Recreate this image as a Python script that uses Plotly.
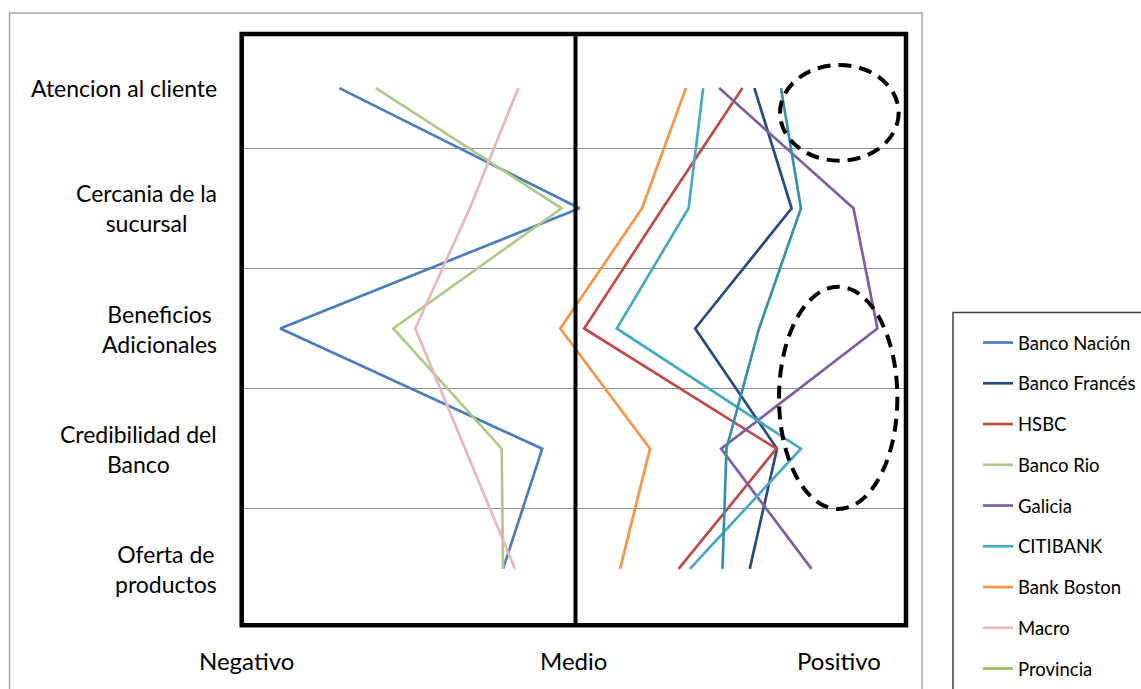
import plotly.graph_objects as go

# Attributes evaluated (top to bottom) and the scale labels
atributos = [
    "Atencion al cliente",
    "Cercania de la<br>sucursal",
    "Beneficios<br>Adicionales",
    "Credibilidad del<br>Banco",
    "Oferta de<br>productos",
]
escala = ["Negativo", "Medio", "Positivo"]

# Position of each bank on each attribute (0 = negativo, 50 = medio, 100 = positivo)
banco_nacion = [14.5, 50.6, 5.6, 45.0, 39.1]
banco_frances = [76.9, 82.5, 68.0, 80.3, 76.2]
hsbc = [75.1, 63.1, 51.3, 80.2, 65.5]
banco_rio = [20.0, 47.9, 22.6, 38.9, 39.1]
galicia = [71.6, 91.8, 95.4, 71.9, 85.5]
citibank = [69.2, 67.0, 56.2, 83.9, 67.2]
bank_boston = [66.6, 60.0, 47.7, 61.2, 56.7]
macro = [41.4, 34.1, 25.9, 33.4, 40.9]
provincia = [None, None, None, None, None]
otros = [80.9, 83.9, 77.6, 72.7, 72.1]

series = [
    ("Banco Nación", banco_nacion, "#4A7EBB", True),
    ("Banco Francés", banco_frances, "#244C7E", True),
    ("HSBC", hsbc, "#BE4B48", True),
    ("Banco Rio", banco_rio, "#AFC98A", True),
    ("Galicia", galicia, "#7D5FA0", True),
    ("CITIBANK", citibank, "#46AAC5", True),
    ("Bank Boston", bank_boston, "#F79646", True),
    ("Macro", macro, "#E6B9B8", True),
    ("Provincia", provincia, "#9BBB59", True),
    ("Otros", otros, "#3591A8", False),
]

W, H = 1141, 689
L, R, T, B = 243, 908, 28, 629  # plot area in pixels


def px(x):
    return (x - L) / (R - L)


def py(y):
    return (B - y) / (B - T)


fig = go.Figure()
ys = list(range(len(atributos)))
for nombre, valores, color, en_leyenda in series:
    fig.add_trace(go.Scatter(
        x=valores, y=ys, name=nombre, mode="lines",
        line=dict(color=color, width=2.7),
        legendgroup=nombre, showlegend=en_leyenda,
    ))

shapes = []
# outer chart frame
shapes.append(dict(type="rect", xref="paper", yref="paper",
                   x0=px(9.5), x1=px(922), y0=py(13), y1=py(720),
                   line=dict(color="#A6A6A6", width=1.5), layer="below"))
# thick frame and middle divider
shapes.append(dict(type="rect", xref="paper", yref="paper",
                   x0=px(241.7), x1=px(906), y0=py(34), y1=py(625.3),
                   line=dict(color="black", width=4.5)))
shapes.append(dict(type="line", xref="x", yref="paper",
                   x0=50, x1=50, y0=py(34), y1=py(625.3),
                   line=dict(color="black", width=4)))
# highlighted zones
shapes.append(dict(type="circle", xref="x", yref="y",
                   x0=80.75, x1=98.6, y0=-0.192, y1=0.604,
                   line=dict(color="black", width=4, dash="13px,8px")))
shapes.append(dict(type="circle", xref="x", yref="y",
                   x0=80.6, x1=98.4, y0=1.652, y1=3.502,
                   line=dict(color="black", width=4, dash="13px,8px")))
# legend frame
shapes.append(dict(type="rect", xref="paper", yref="paper",
                   x0=px(953), x1=px(1160), y0=py(312.5), y1=py(720),
                   line=dict(color="#404040", width=1.5)))

annotations = []
for i, texto in enumerate(atributos):
    annotations.append(dict(x=px(219), xref="paper", y=i, yref="y",
                            text=texto, showarrow=False, xanchor="right",
                            yanchor="middle", align="center",
                            font=dict(family="Lato", size=23, color="black")))
for texto, xp in zip(escala, [246, 573, 839]):
    annotations.append(dict(x=px(xp), xref="paper", y=py(660), yref="paper",
                            text=texto, showarrow=False, xanchor="center",
                            yanchor="middle",
                            font=dict(family="Lato", size=24, color="black")))

fig.update_layout(
    width=W, height=H,
    margin=dict(l=L, r=W - R, t=T, b=H - B, pad=0, autoexpand=False),
    paper_bgcolor="white", plot_bgcolor="white",
    showlegend=True,
    legend=dict(x=px(978), y=py(324), xanchor="left", yanchor="top",
                bgcolor="rgba(0,0,0,0)", borderwidth=0,
                font=dict(family="Lato", size=18.5, color="black"),
                tracegroupgap=13.7, traceorder="grouped"),
    xaxis=dict(range=[0, 100], showgrid=False, zeroline=False,
               showticklabels=False, ticks="", fixedrange=True),
    yaxis=dict(range=[4.5, -0.5], tickvals=[-0.5, 0.5, 1.5, 2.5, 3.5],
               showgrid=True, gridcolor="#8C8C8C", gridwidth=1,
               zeroline=False, showticklabels=False, ticks="",
               fixedrange=True),
    shapes=shapes,
    annotations=annotations,
)

fig.write_html("out.html")
